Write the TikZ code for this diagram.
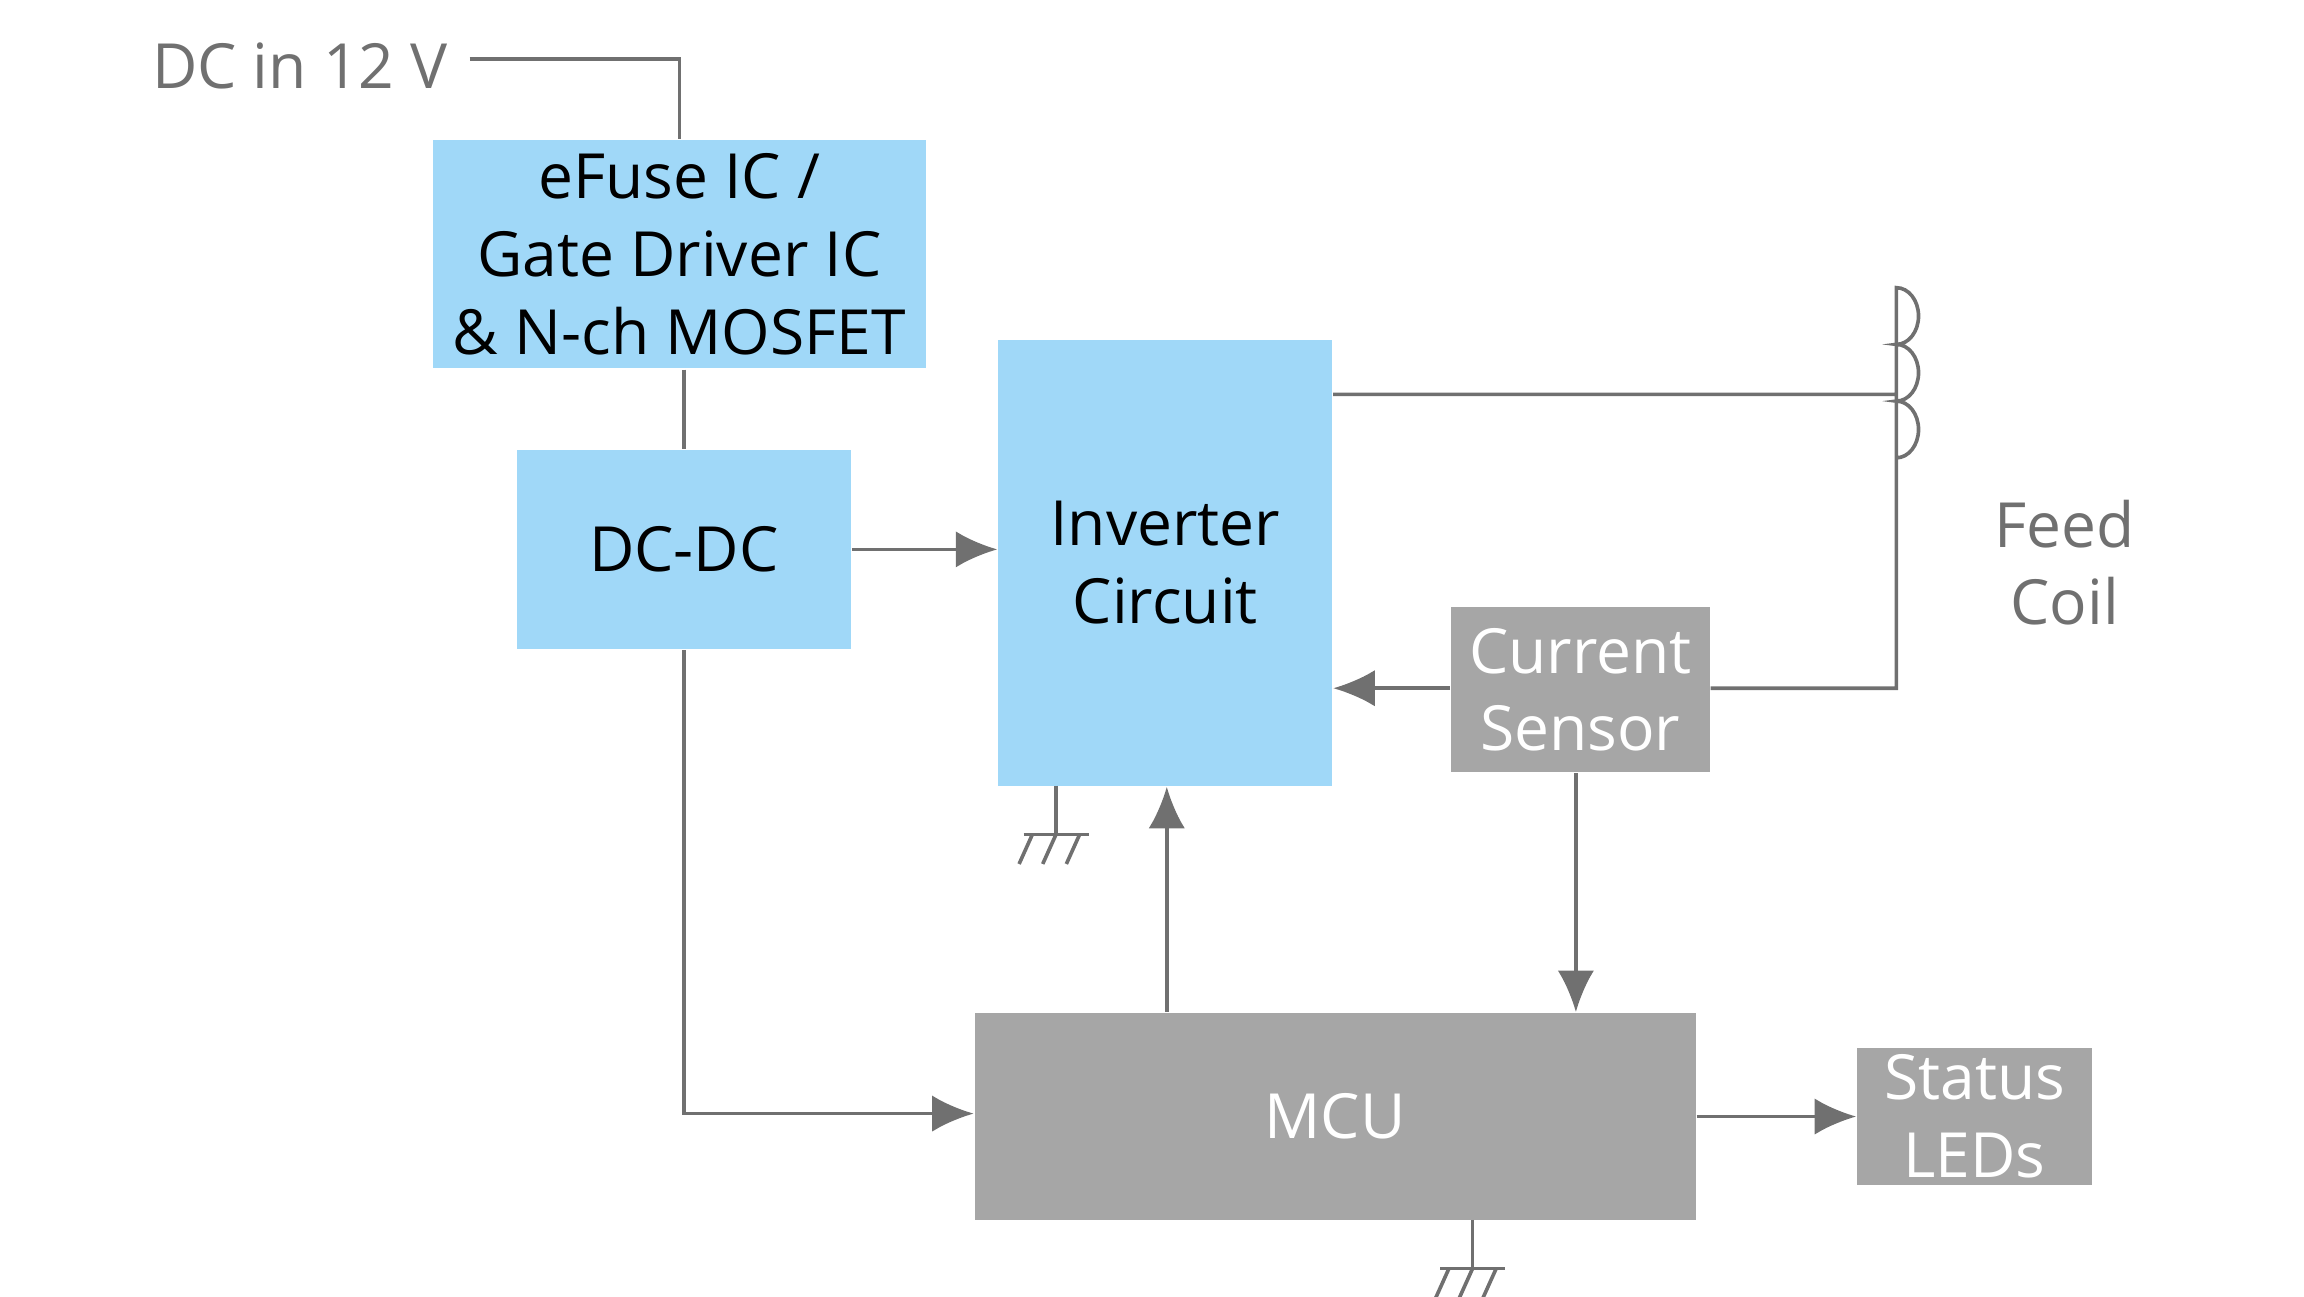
\documentclass[tikz,border=0pt]{standalone}
\usepackage{fontspec}
\setmainfont{Open Sans}
\usetikzlibrary{positioning,arrows.meta}
\definecolor{blk}{HTML}{A0D8F8}
\definecolor{gblk}{HTML}{A6A6A6}
\definecolor{wire}{HTML}{707070}
\tikzstyle{bluebox} = [rectangle, fill=blk, draw=none, text centered, align=center, inner sep=0pt, font=\fontsize{12}{15}\selectfont]
\tikzstyle{graybox} = [rectangle, fill=gblk, draw=none, text=white, text centered, align=center, inner sep=0pt, font=\fontsize{12}{15}\selectfont]
\tikzstyle{plain} = [draw=none, fill=none, text=wire, align=center, font=\fontsize{12}{15}\selectfont]
\tikzstyle{line} = [draw=wire, line width=0.7pt]
\tikzstyle{sig} = [draw=wire, line width=0.7pt, -{Latex[length=8pt,width=7pt]}]
\tikzstyle{gnd} = [draw=wire, line width=0.7pt]

\begin{document}
\begin{tikzpicture}[x=0.1mm, y=-0.1mm]
	\useasboundingbox (0,0) rectangle (1560,878);
	% place nodes
	\node [plain] (DCIN) at (203,45) {DC in 12 V};
	\node [bluebox, minimum width=3.34cm, minimum height=1.55cm] (EF) at (460,172) {eFuse IC /\\Gate Driver IC\\\& N-ch MOSFET};
	\node [bluebox, minimum width=2.26cm, minimum height=1.35cm] (DC) at (463,372) {DC-DC};
	\node [bluebox, minimum width=2.26cm, minimum height=3.02cm] (INV) at (789,381) {Inverter\\Circuit};
	\node [graybox, minimum width=1.75cm, minimum height=1.12cm] (CS) at (1070,467) {Current\\Sensor};
	\node [graybox, minimum width=4.88cm, minimum height=1.40cm] (MCU) at (904,756) {MCU};
	\node [graybox, minimum width=1.59cm, minimum height=0.93cm] (LED) at (1337,756) {Status\\LEDs};
	\node [plain] (COIL) at (1398,381) {Feed\\Coil};

	% wires
	\coordinate (c1) at (460,40);
	\coordinate (cTop) at (1284,267);
	\coordinate (cA) at (1284,310);
	\coordinate (cB) at (1284,425);
	\coordinate (cBot) at (1284,466);
	\path [line] (318,40) -- (c1) -- (EF.north);
	\path [line] (EF.south -| DC.north) -- (DC.north);
	\path [line] (INV.north east |- cTop) -- (cTop) -- (cA)
		arc (90:-90:15 and 19.2) arc (90:-90:15 and 19.2) arc (90:-90:15 and 19.2) -- (cBot) -- (CS.east |- cBot);

	% draw edges
	\path [sig] (DC.east) -- (INV.west |- DC.east);
	\path [sig] (CS.west |- cBot) -- (INV.east |- cBot);
	\path [sig] (CS.south -| 1067,0) -- (MCU.north -| 1067,0);
	\path [sig] (MCU.north -| 790,0) -- (INV.south -| 790,0);
	\path [sig] (DC.south) -- (463,754) -- (MCU.west |- 0,754);
	\path [sig] (MCU.east) -- (LED.west);

	% grounds
	\foreach \gx/\gy in {715/532, 997/826} {
		\path [gnd] (\gx,\gy) -- ++(0,33) ++(-22,0) -- ++(44,0);
		\foreach \k in {-16,0,16}
			\path [gnd] (\gx+\k,\gy+33) -- ++(-9,20);
	}
\end{tikzpicture}
\end{document}
